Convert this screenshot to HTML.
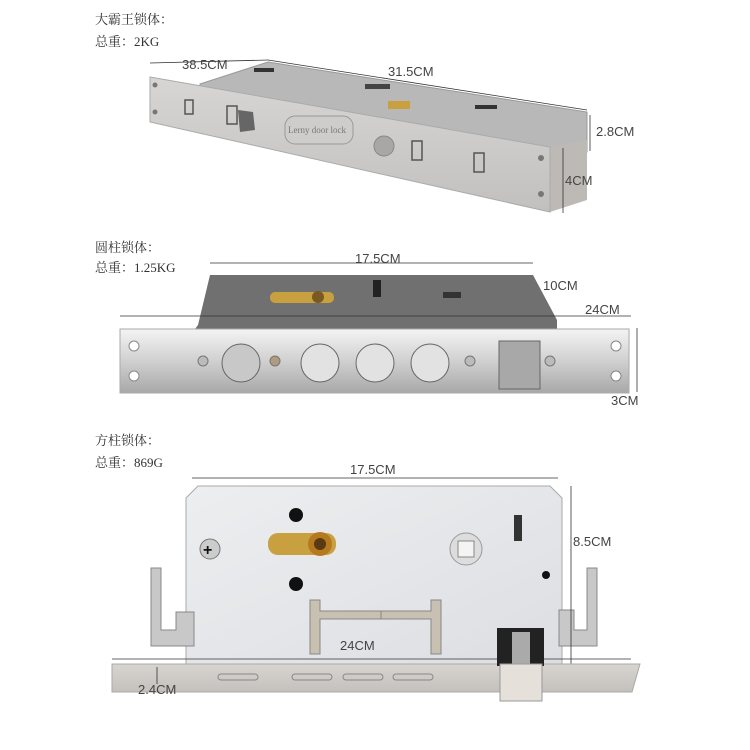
<!DOCTYPE html>
<html><head><meta charset="utf-8"><style>
body{margin:0;background:#fff;width:750px;height:750px;overflow:hidden}
svg{display:block}
text{font-family:"Liberation Sans","Noto Sans CJK SC",sans-serif;font-size:13px;fill:#444}
.cn{font-family:"Liberation Serif","Noto Serif CJK SC",serif;font-size:13px;fill:#333}
</style></head><body>
<svg width="750" height="750" viewBox="0 0 750 750">
<defs>
<linearGradient id="fp1" x1="0" y1="0" x2="0" y2="1">
<stop offset="0" stop-color="#d8d6d4"/><stop offset="1" stop-color="#c2c0be"/></linearGradient>
<linearGradient id="steel2" x1="0" y1="0" x2="0" y2="1">
<stop offset="0" stop-color="#f4f4f4"/><stop offset=".5" stop-color="#d0d0d0"/><stop offset="1" stop-color="#a8a8a8"/></linearGradient>
<linearGradient id="fp3" x1="0" y1="0" x2="0" y2="1">
<stop offset="0" stop-color="#d8d4d0"/><stop offset="1" stop-color="#c4c0bc"/></linearGradient>
<linearGradient id="plate" x1="0" y1="0" x2="1" y2="1">
<stop offset="0" stop-color="#eceef0"/><stop offset="1" stop-color="#dcdee2"/></linearGradient>
</defs>
<!-- Lock 1 -->
<text class="cn" x="95" y="24">大霸王锁体：</text>
<text class="cn" x="95" y="46">总重：2KG</text>
<polygon points="200,84 268,62 587,112 587,152 550,160 200,110" fill="#b8b8b8" stroke="#999"/>
<polygon points="550,147 587,140 587,200 550,212" fill="#bdbab6"/>
<polygon points="150,77 550,147 550,212 150,122" fill="url(#fp1)" stroke="#aaa"/>
<rect x="254" y="68" width="20" height="4" fill="#333"/>
<rect x="365" y="84" width="25" height="5" fill="#444"/>
<rect x="388" y="101" width="22" height="8" fill="#c9a040"/>
<rect x="475" y="105" width="22" height="4" fill="#333"/>
<rect x="185" y="100" width="8" height="14" fill="none" stroke="#555" stroke-width="1.5"/>
<rect x="227" y="106" width="10" height="18" fill="none" stroke="#555" stroke-width="1.5"/>
<polygon points="238,110 253,112 255,130 240,132" fill="#666"/>
<rect x="285" y="116" width="68" height="28" rx="10" fill="#cfcdcb" stroke="#999"/>
<text x="288" y="133" style="font-size:9px;fill:#777;font-family:'Liberation Serif',serif">Lerny door lock</text>
<circle cx="384" cy="146" r="10" fill="#a9a7a5" stroke="#888"/>
<rect x="412" y="141" width="10" height="19" fill="none" stroke="#555" stroke-width="1.5"/>
<rect x="474" y="153" width="10" height="19" fill="none" stroke="#555" stroke-width="1.5"/>
<circle cx="541" cy="158" r="3" fill="#777"/><circle cx="541" cy="194" r="3" fill="#777"/>
<circle cx="155" cy="85" r="2.5" fill="#777"/><circle cx="155" cy="112" r="2.5" fill="#777"/>
<line x1="150" y1="63" x2="268" y2="60" stroke="#333" stroke-width=".8"/>
<text x="182" y="69">38.5CM</text>
<line x1="268" y1="60" x2="587" y2="110" stroke="#333" stroke-width=".8"/>
<text x="388" y="76">31.5CM</text>
<line x1="590" y1="115" x2="590" y2="151" stroke="#333" stroke-width=".8"/>
<text x="596" y="136">2.8CM</text>
<line x1="563" y1="148" x2="563" y2="213" stroke="#333" stroke-width=".8"/>
<text x="565" y="185">4CM</text>
<!-- Lock 2 -->
<text class="cn" x="95" y="252">圆柱锁体：</text>
<text class="cn" x="95" y="272">总重：1.25KG</text>
<polygon points="210,275 533,275 557,320 557,329 195,329 198,325" fill="#707070"/>
<rect x="270" y="292" width="64" height="11" rx="5" fill="#c9a040"/>
<circle cx="318" cy="297" r="6" fill="#7a5a20"/>
<rect x="373" y="280" width="8" height="17" fill="#222"/>
<rect x="443" y="292" width="18" height="6" fill="#333"/>
<line x1="210" y1="263" x2="533" y2="263" stroke="#333" stroke-width=".8"/>
<text x="355" y="263">17.5CM</text>
<text x="543" y="290">10CM</text>
<text x="585" y="314">24CM</text>
<line x1="120" y1="316" x2="631" y2="316" stroke="#333" stroke-width=".8"/>
<rect x="120" y="329" width="509" height="64" fill="url(#steel2)" stroke="#aaa"/>
<circle cx="241" cy="363" r="19" fill="#c8c8c8" stroke="#666"/>
<circle cx="320" cy="363" r="19" fill="#e2e2e2" stroke="#666"/>
<circle cx="375" cy="363" r="19" fill="#e2e2e2" stroke="#666"/>
<circle cx="430" cy="363" r="19" fill="#e2e2e2" stroke="#666"/>
<circle cx="203" cy="361" r="5" fill="#bbb" stroke="#777"/>
<circle cx="275" cy="361" r="5" fill="#b09a80" stroke="#777"/>
<circle cx="470" cy="361" r="5" fill="#bbb" stroke="#777"/>
<circle cx="550" cy="361" r="5" fill="#bbb" stroke="#777"/>
<rect x="499" y="341" width="41" height="48" fill="#a8a8a8" stroke="#666"/>
<circle cx="134" cy="346" r="5" fill="#fff" stroke="#888"/><circle cx="134" cy="376" r="5" fill="#fff" stroke="#888"/>
<circle cx="616" cy="346" r="5" fill="#fff" stroke="#888"/><circle cx="616" cy="376" r="5" fill="#fff" stroke="#888"/>
<line x1="637" y1="328" x2="637" y2="392" stroke="#333" stroke-width=".8"/>
<text x="611" y="405">3CM</text>
<!-- Lock 3 -->
<text class="cn" x="95" y="445">方柱锁体：</text>
<text class="cn" x="95" y="467">总重：869G</text>
<line x1="192" y1="478" x2="558" y2="478" stroke="#333" stroke-width=".8"/>
<text x="350" y="474">17.5CM</text>
<polygon points="198,486 550,486 562,498 562,664 186,664 186,498" fill="url(#plate)" stroke="#aaa"/>
<rect x="268" y="533" width="68" height="22" rx="10" fill="#c9a040"/>
<circle cx="320" cy="544" r="12" fill="#b57a20"/><circle cx="320" cy="544" r="6" fill="#5a3a10"/>
<circle cx="296" cy="515" r="7" fill="#111"/><circle cx="296" cy="584" r="7" fill="#111"/>
<circle cx="466" cy="549" r="16" fill="#ddd" stroke="#999"/>
<rect x="458" y="541" width="16" height="16" fill="#f4f4f4" stroke="#888"/>
<circle cx="210" cy="549" r="10" fill="#ccc" stroke="#777"/>
<text x="203" y="555" style="font-size:16px;font-weight:bold;fill:#111">+</text>
<rect x="514" y="515" width="8" height="26" fill="#333"/>
<circle cx="546" cy="575" r="4" fill="#111"/>
<path d="M310,600 v54 h10 v-35 h75 v-8 h-75 v-11 z" fill="#c8c0b0" stroke="#888"/>
<path d="M441,600 v54 h-10 v-35 h-50 v-8 h50 v-11 z" fill="#c8c0b0" stroke="#888"/>
<path d="M151,568 h10 v62 h15 v-18 h18 v34 h-43 z" fill="#c8c8c8" stroke="#888"/>
<path d="M597,568 h-10 v62 h-13 v-20 h-15 v36 h38 z" fill="#c8c8c8" stroke="#888"/>
<line x1="571" y1="486" x2="571" y2="664" stroke="#333" stroke-width=".8"/>
<text x="573" y="546">8.5CM</text>
<line x1="112" y1="659" x2="631" y2="659" stroke="#333" stroke-width=".8"/>
<text x="340" y="650">24CM</text>
<polygon points="112,664 640,664 632,692 112,692" fill="url(#fp3)" stroke="#aaa"/>
<rect x="218" y="674" width="40" height="6" rx="3" fill="none" stroke="#888"/>
<rect x="292" y="674" width="40" height="6" rx="3" fill="none" stroke="#888"/>
<rect x="343" y="674" width="40" height="6" rx="3" fill="none" stroke="#888"/>
<rect x="393" y="674" width="40" height="6" rx="3" fill="none" stroke="#888"/>
<rect x="497" y="628" width="47" height="38" fill="#222"/>
<rect x="512" y="632" width="18" height="34" fill="#aaa"/>
<rect x="500" y="664" width="42" height="37" fill="#e6e0da" stroke="#999"/>
<line x1="157" y1="667" x2="157" y2="684" stroke="#333" stroke-width=".8"/>
<text x="138" y="694">2.4CM</text>
</svg>
</body></html>
